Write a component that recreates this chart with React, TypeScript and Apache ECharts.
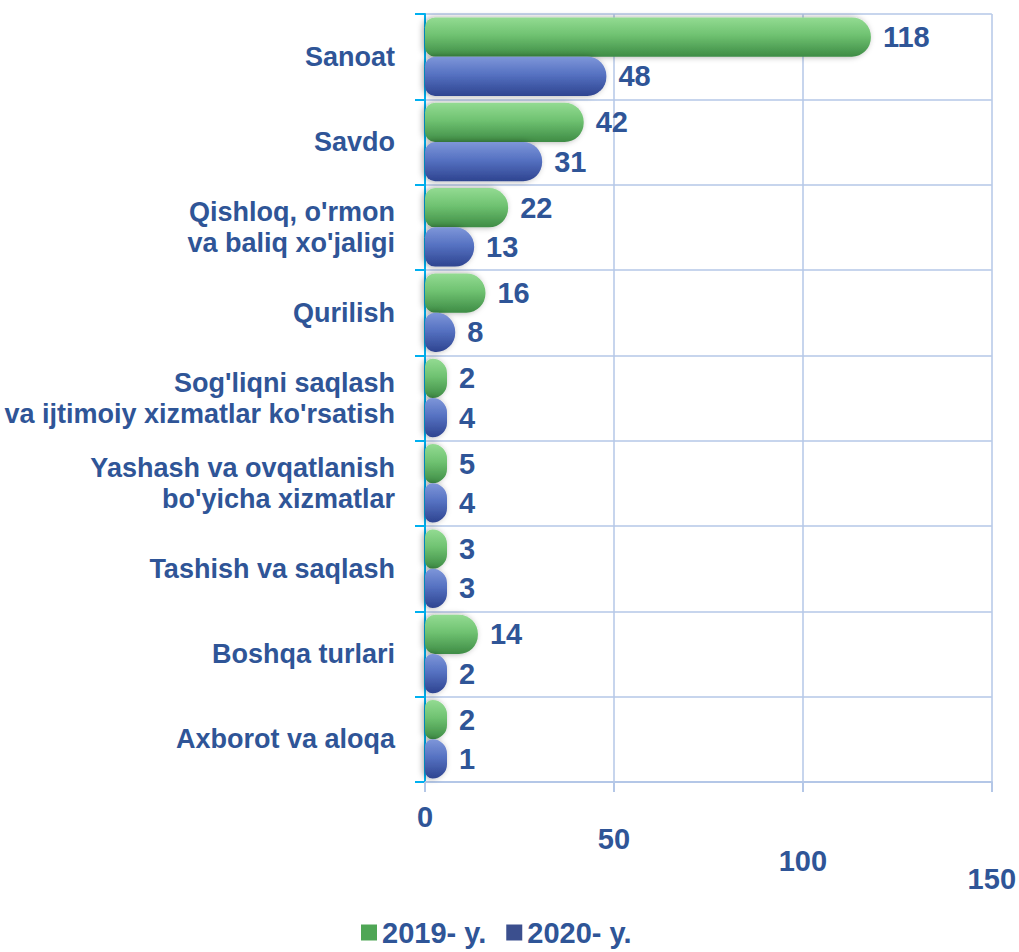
import React, { useEffect, useRef } from "react";
import * as echarts from "echarts";

const categories = [
  "Sanoat",
  "Savdo",
  "Qishloq, o'rmon\nva baliq xo'jaligi",
  "Qurilish",
  "Sog'liqni saqlash\nva ijtimoiy xizmatlar ko'rsatish",
  "Yashash va ovqatlanish\nbo'yicha xizmatlar",
  "Tashish va saqlash",
  "Boshqa turlari",
  "Axborot va aloqa",
];
const values2019 = [118, 42, 22, 16, 2, 5, 3, 14, 2];
const values2020 = [48, 31, 13, 8, 4, 4, 3, 2, 1];
const seriesNames = ["2019- y.", "2020- y."];
const xTicks = [0, 50, 100, 150];

const textColor = "#2F5597";
const gridColor = "#B4C7E7";
const font = "Liberation Sans";

export default function App() {
  const ref = useRef<HTMLDivElement>(null);
  useEffect(() => {
    if (!ref.current) return;
    const chart = echarts.init(ref.current, null, { renderer: "svg" });
    const green = new echarts.graphic.LinearGradient(0, 0, 0, 1, [
      { offset: 0, color: "#93DB92" },
      { offset: 0.45, color: "#6FC271" },
      { offset: 1, color: "#3E8C45" },
    ]);
    const blue = new echarts.graphic.LinearGradient(0, 0, 0, 1, [
      { offset: 0, color: "#7E96D9" },
      { offset: 0.45, color: "#5672C2" },
      { offset: 1, color: "#2E4490" },
    ]);
    const labelStyle = {
      show: true,
      position: "right" as const,
      distance: 12,
      color: textColor,
      fontSize: 29,
      fontWeight: "bold" as const,
      fontFamily: font,
    };
    const rich: Record<string, any> = {};
    const offsets: Record<number, number> = { 0: 0, 50: 22, 100: 44, 150: 62 };
    xTicks.forEach((t) => {
      rich["t" + t] = {
        color: textColor,
        fontSize: 29,
        fontWeight: "bold",
        fontFamily: font,
        padding: [offsets[t], 0, 0, 0],
      };
    });
    chart.setOption({
      animation: false,
      backgroundColor: "#FFFFFF",
      textStyle: { fontFamily: font },
      grid: { left: 425, right: 10, top: 14, bottom: 170, containLabel: false },
      legend: {
        bottom: 0,
        left: 356,
        itemWidth: 16,
        itemHeight: 16,
        itemGap: 20,
        textStyle: { color: textColor, fontSize: 29, fontWeight: "bold", fontFamily: font },
        data: seriesNames.map((n, i) => ({
          name: n,
          icon: "rect",
          itemStyle: { color: i === 0 ? "#4FA655" : "#3B4F8E" },
        })),
      },
      xAxis: {
        type: "value",
        min: 0,
        max: 150,
        interval: 50,
        axisLine: { show: true, lineStyle: { color: gridColor, width: 2 } },
        axisTick: { show: true, length: 10, lineStyle: { color: gridColor, width: 2 } },
        splitLine: { show: true, lineStyle: { color: gridColor, width: 1.5 } },
        axisLabel: {
          margin: 20,
          formatter: (v: number) => `{t${v}|${v}}`,
          rich,
        },
      },
      yAxis: {
        type: "category",
        inverse: true,
        data: categories,
        axisLine: { show: true, lineStyle: { color: "#00B0F0", width: 2 } },
        axisTick: { show: true, length: 10, lineStyle: { color: "#00B0F0", width: 2 } },
        splitLine: { show: true, lineStyle: { color: gridColor, width: 1.5 } },
        axisLabel: {
          margin: 30,
          color: textColor,
          fontSize: 27,
          fontWeight: "bold",
          fontFamily: font,
          lineHeight: 31,
          align: "right",
        },
      },
      series: [
        {
          name: seriesNames[0],
          type: "bar",
          data: values2019,
          barGap: "0%",
          barCategoryGap: "8%",
          barMinHeight: 22,
          itemStyle: {
            color: green,
            borderRadius: [10, 19, 19, 10],
            shadowColor: "rgba(0,0,0,0.35)",
            shadowBlur: 6,
            shadowOffsetX: -2,
          },
          label: labelStyle,
        },
        {
          name: seriesNames[1],
          type: "bar",
          data: values2020,
          barMinHeight: 22,
          itemStyle: {
            color: blue,
            borderRadius: [10, 19, 19, 10],
            shadowColor: "rgba(0,0,0,0.35)",
            shadowBlur: 6,
            shadowOffsetX: -2,
          },
          label: labelStyle,
        },
      ],
    });
    return () => chart.dispose();
  }, []);
  return (
    <div
      ref={ref}
      style={{ position: "absolute", left: 0, top: 0, width: 1019, height: 952 }}
    />
  );
}
